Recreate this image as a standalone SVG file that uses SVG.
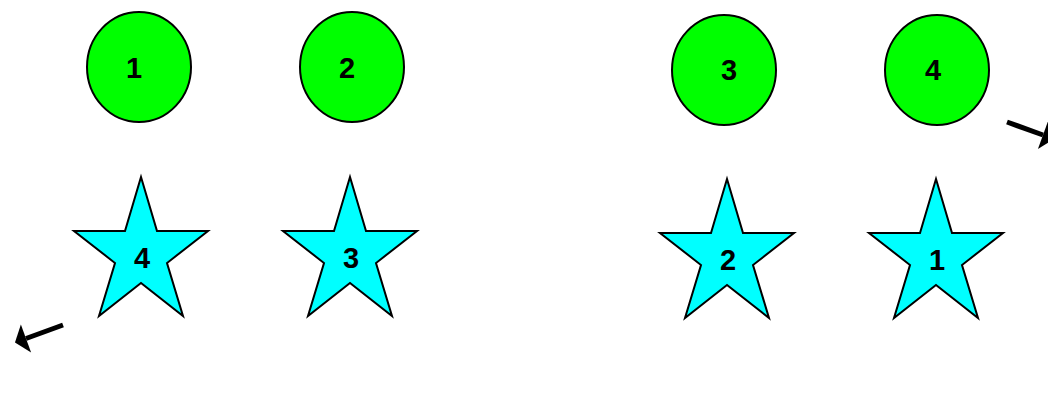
<svg xmlns="http://www.w3.org/2000/svg" width="1048" height="418" viewBox="0 0 1048 418">
<style>
.c{fill:#00ff00;stroke:#000;stroke-width:2}
.s{fill:#00ffff;stroke:#000;stroke-width:2;stroke-linejoin:miter}
.t{font-family:"Liberation Sans",Arial,sans-serif;font-weight:bold;font-size:29px;fill:#000;text-anchor:middle}
.a{stroke:#000;stroke-width:5;fill:none}
</style>
<defs>
<path id="star" d="M0,0 L16,54 L67,54 L26,86 L42,139 L0,106 L-42,139 L-26,86 L-67,54 L-16,54 Z"/>
<marker id="ah" markerUnits="userSpaceOnUse" markerWidth="14" markerHeight="32" viewBox="0 -15 12 30" refX="0" refY="0" orient="auto">
<path d="M0,-14 L11,0 L0,14 Z" fill="#000"/>
</marker>
</defs>
<g id="circle1"><ellipse class="c" cx="139" cy="67" rx="52" ry="55"/><text class="t" x="134" y="78">1</text></g>
<g id="circle2"><ellipse class="c" cx="352" cy="67" rx="52" ry="55"/><text class="t" x="347" y="78">2</text></g>
<g id="circle3"><ellipse class="c" cx="724" cy="70" rx="52" ry="55"/><text class="t" x="729" y="80">3</text></g>
<g id="circle4"><ellipse class="c" cx="937" cy="70" rx="52" ry="55"/><text class="t" x="933" y="80">4</text></g>
<g id="star4"><use href="#star" class="s" x="141" y="177"/><text class="t" x="142" y="268">4</text></g>
<g id="star3"><use href="#star" class="s" x="350" y="177"/><text class="t" x="351" y="268">3</text></g>
<g id="star2"><use href="#star" class="s" x="727" y="179"/><text class="t" x="728" y="270">2</text></g>
<g id="star1"><use href="#star" class="s" x="936" y="179"/><text class="t" x="937" y="270">1</text></g>
<g id="connectors">
<line class="a" x1="63" y1="325" x2="26" y2="338.5" marker-end="url(#ah)"/>
<line class="a" x1="1007" y1="122" x2="1043" y2="135" marker-end="url(#ah)"/>
</g>
</svg>
